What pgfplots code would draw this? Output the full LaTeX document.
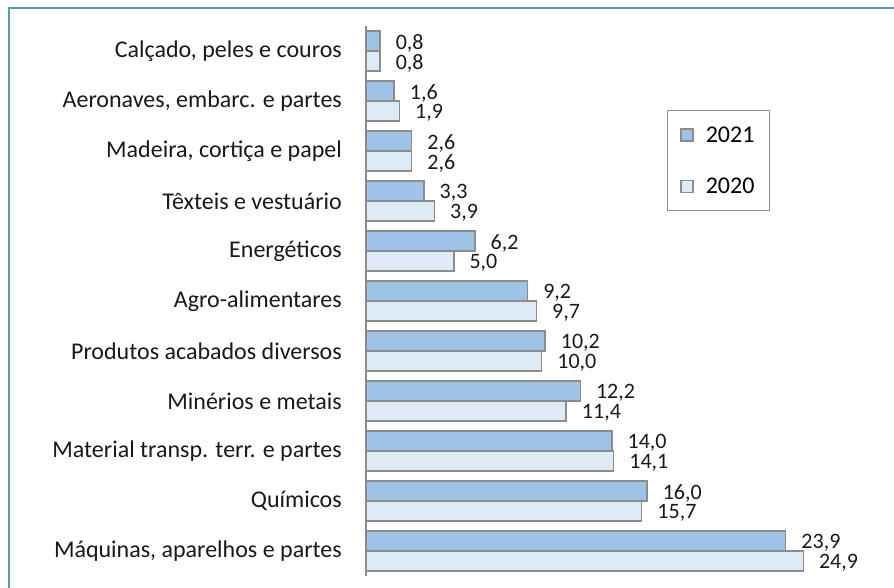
\documentclass[border=0pt]{standalone}
\usepackage{pgfplots}
\pgfplotsset{compat=1.18}
\usepackage{fontspec}
\setmainfont{Carlito}

\definecolor{bar21}{HTML}{9DC3E6}
\definecolor{bar20}{HTML}{DEEBF7}
\definecolor{barline}{HTML}{8C8C8C}
\definecolor{frame}{HTML}{5B9BAE}

\pgfplotstableread{
idx v2021 v2020
0  0.8  0.8
1  1.6  1.9
2  2.6  2.6
3  3.3  3.9
4  6.2  5.0
5  9.2  9.7
6  10.2 10.0
7  12.2 11.4
8  14.0 14.1
9  16.0 15.7
10 23.9 24.9
}\exports

\begin{document}
\begin{tikzpicture}
\useasboundingbox (0,0) rectangle (894pt,-587pt);
\draw[frame, line width=2pt] (9pt,-8pt) rectangle (950pt,-650pt);

\begin{axis}[
    at={(366pt,-26pt)}, anchor=north west,
    scale only axis,
    width=500pt, height=550pt,
    xbar, bar width=20pt,
    xmin=0, xmax=28.47,
    ymin=-0.5, ymax=10.5,
    y dir=reverse,
    axis y line*=left,
    axis x line=none,
    axis line style={draw=barline, line width=1.2pt},
    ytick={0,...,10},
    yticklabels={
        {Calçado, peles e couros},
        {Aeronaves, embarc. e partes},
        {Madeira, cortiça e papel},
        {Têxteis e vestuário},
        {Energéticos},
        {Agro-alimentares},
        {Produtos acabados diversos},
        {Minérios e metais},
        {Material transp. terr. e partes},
        {Químicos},
        {Máquinas, aparelhos e partes}},
    major tick length=0pt,
    yticklabel style={font=\fontsize{24}{27}\selectfont, inner sep=0pt, anchor=east, xshift=-24pt, text=black!90},
    /pgf/number format/assume math mode=true,
    /pgf/number format/.cd, use comma, fixed, fixed zerofill, precision=1, /pgfplots/.cd,
    nodes near coords,
    nodes near coords style={anchor=west, inner sep=0pt, xshift=15pt, yshift=-2pt,
        font=\fontsize{22}{25}\selectfont, text=black!90},
    clip=false,
    legend style={at={(axis description cs:0.602,0.847)}, anchor=north west,
        draw=barline, line width=0.8pt, inner xsep=13pt, inner ysep=14pt,
        font=\fontsize{24}{27}\selectfont, row sep=30pt,
        legend cell align=left},
    legend image code/.code={\draw[#1, line width=1.2pt] (0pt,-6pt) rectangle (12pt,6pt); \path (22pt,0pt);},
]
\addplot[fill=bar21, draw=barline, line width=1.5pt, bar shift=10pt] table[x=v2021, y=idx] {\exports};
\addplot[fill=bar20, draw=barline, line width=1.5pt, bar shift=-10pt] table[x=v2020, y=idx] {\exports};
\legend{2021, 2020}
\end{axis}
\end{tikzpicture}
\end{document}
